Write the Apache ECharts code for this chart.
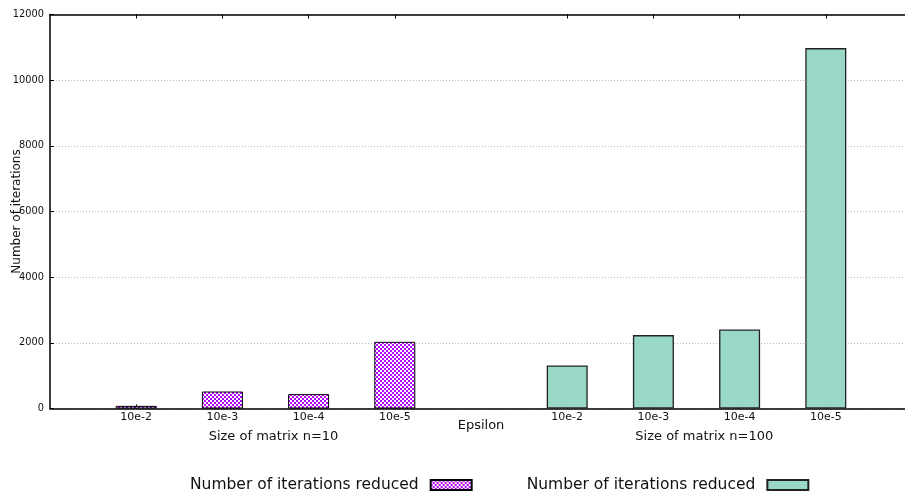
<!DOCTYPE html>
<html><head><meta charset="utf-8">
<script src="https://cdn.jsdelivr.net/npm/echarts@6/dist/echarts.min.js"></script>
<style>html,body{margin:0;padding:0;background:#fff}#c{width:905px;height:493px}</style>
</head><body><div id="c"></div>
<script>
const epsilonLabels = ['10e-2', '10e-3', '10e-4', '10e-5'];
const n10Values = [80, 517, 438, 2030];
const n100Values = [1309, 2235, 2406, 10976];
const groupLabels = ['Size of matrix n=10', 'Size of matrix n=100'];
const legendLabel = 'Number of iterations reduced';
const xName = 'Epsilon';
const yName = 'Number of iterations';
const yMin = 0, yMax = 12000, yInterval = 2000;

const FONT = 'DejaVu Sans';
const blanks = epsilonLabels.map(() => null);
const categories = [''].concat(epsilonLabels, [''], epsilonLabels, ['']);
const n10Data = [null].concat(n10Values, [null], blanks, [null]);
const n100Data = [null].concat(blanks, [null], n100Values, [null]);

const pc = document.createElement('canvas');
pc.width = 4; pc.height = 4;
const g = pc.getContext('2d');
g.fillStyle = '#ffffff'; g.fillRect(0, 0, 4, 4);
g.fillStyle = '#b400ff'; g.fillRect(0, 0, 2, 2); g.fillRect(2, 2, 2, 2);

const showTick = (i, v) => v !== '';
const chart = echarts.init(document.getElementById('c'), null, {renderer: 'canvas'});
chart.setOption({
  animation: false,
  backgroundColor: '#ffffff',
  grid: {left: 50, right: -7, top: 14.5, bottom: 84.5, containLabel: false, outerBoundsMode: 'none'},
  xAxis: [{
    type: 'category', data: categories, boundaryGap: false, position: 'bottom',
    name: xName, nameLocation: 'middle', nameGap: 11, nameMoveOverlap: false,
    nameTextStyle: {fontFamily: FONT, fontSize: 13, color: '#111', verticalAlign: 'top'},
    axisLine: {lineStyle: {color: '#000', width: 1.5}},
    axisTick: {show: true, inside: true, length: 4, interval: showTick, lineStyle: {color: '#000'}},
    axisLabel: {interval: 0, margin: 3, fontFamily: FONT, fontSize: 11, color: '#111'},
    splitLine: {show: false}
  }, {
    type: 'category', data: categories, boundaryGap: false, position: 'top',
    axisLine: {lineStyle: {color: '#000', width: 1.5}},
    axisTick: {show: true, inside: true, length: 4, interval: showTick, lineStyle: {color: '#000'}},
    axisLabel: {show: false},
    splitLine: {show: false}
  }],
  yAxis: {
    type: 'value', min: yMin, max: yMax, interval: yInterval,
    name: yName, nameLocation: 'middle', nameGap: 27, nameMoveOverlap: false,
    nameTextStyle: {fontFamily: FONT, fontSize: 12, color: '#111'},
    axisLine: {show: true, lineStyle: {color: '#000', width: 1.5}},
    axisTick: {show: true, inside: true, length: 4, lineStyle: {color: '#000'}},
    axisLabel: {margin: 6, fontFamily: FONT, fontSize: 9.8, color: '#111', formatter: v => String(v)},
    splitLine: {show: true, lineStyle: {color: '#b8b8b8', width: 1, type: [1, 2]}}
  },
  legend: {
    data: ['n10', 'n100'], left: 185, top: 472, align: 'right', orient: 'horizontal',
    icon: 'rect', itemWidth: 41, itemHeight: 10, itemGap: 54,
    formatter: () => legendLabel,
    textStyle: {fontFamily: FONT, fontSize: 15.5, color: '#111', padding: [0, 7, 0, 0]}
  },
  series: [{
    name: 'n10', type: 'bar', data: n10Data, barWidth: 41, barGap: '-100%',
    itemStyle: {color: {image: pc, repeat: 'repeat'}, borderColor: '#000', borderWidth: 1}
  }, {
    name: 'n100', type: 'bar', data: n100Data, barWidth: 41, barGap: '-100%',
    itemStyle: {color: '#99d8c7', borderColor: '#222', borderWidth: 1.3}
  }],
  graphic: [
    {type: 'text', x: 273.5, y: 437, style: {text: groupLabels[0], font: '13px "DejaVu Sans"', fill: '#111', align: 'center', verticalAlign: 'middle'}},
    {type: 'text', x: 704.3, y: 437, style: {text: groupLabels[1], font: '13px "DejaVu Sans"', fill: '#111', align: 'center', verticalAlign: 'middle'}}
  ]
});
</script></body></html>
